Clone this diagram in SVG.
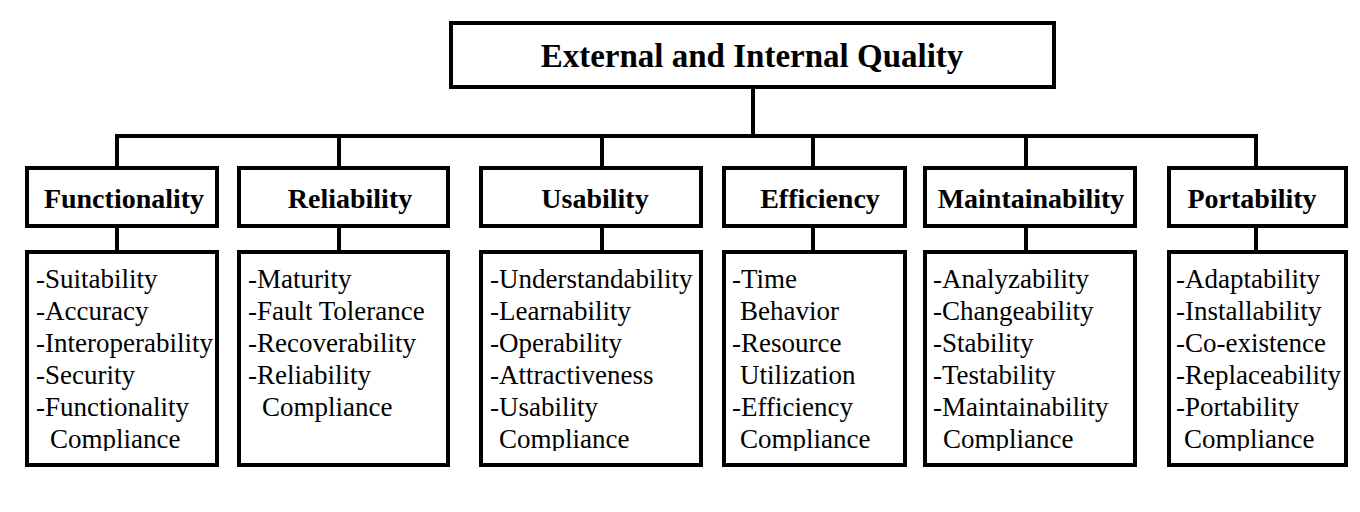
<svg xmlns="http://www.w3.org/2000/svg" width="1360" height="512" viewBox="0 0 1360 512">
<style>
.box{fill:#fff;stroke:#000;stroke-width:4}
.ln{stroke:#000;stroke-width:4;fill:none}
.title{font-family:"Liberation Serif","Times New Roman",serif;font-weight:bold;font-size:33px;text-anchor:middle;fill:#000}
.cat{font-family:"Liberation Serif","Times New Roman",serif;font-weight:bold;font-size:28px;text-anchor:middle;fill:#000}
.item{font-family:"Liberation Serif","Times New Roman",serif;font-size:27px;fill:#000}
</style>
<defs>
<clipPath id="clip" clipPathUnits="userSpaceOnUse"><rect x="0" y="0" width="1360" height="451"/></clipPath>
</defs>
<rect width="1360" height="512" fill="#fff"/>
<g id="connectors">
<path class="ln" d="M753 89V136M115 136H1258"/>
<path class="ln" d="M117 136V166M339 136V166M602 136V166M813 136V166M1026 136V166M1256 136V166"/>
<path class="ln" d="M117 228V250M339 228V250M602 228V250M813 228V250M1026 228V250M1256 228V250"/>
</g>
<g id="root">
<rect class="box" x="451" y="23" width="603" height="64"/>
<text class="title" x="752" y="67">External and Internal Quality</text>
</g>
<g id="functionality">
<rect class="box" x="27" y="168" width="190" height="58"/>
<text class="cat" x="124" y="208">Functionality</text>
</g>
<g id="reliability">
<rect class="box" x="239" y="168" width="209" height="58"/>
<text class="cat" x="350" y="208">Reliability</text>
</g>
<g id="usability">
<rect class="box" x="481" y="168" width="220" height="58"/>
<text class="cat" x="595" y="208">Usability</text>
</g>
<g id="efficiency">
<rect class="box" x="724" y="168" width="181" height="58"/>
<text class="cat" x="820" y="208">Efficiency</text>
</g>
<g id="maintainability">
<rect class="box" x="925" y="168" width="210" height="58"/>
<text class="cat" x="1031" y="208">Maintainability</text>
</g>
<g id="portability">
<rect class="box" x="1169" y="168" width="177" height="58"/>
<text class="cat" x="1252" y="208">Portability</text>
</g>
<g id="functionality-items">
<rect class="box" x="27" y="252" width="190" height="213"/>
<g class="item" clip-path="url(#clip)">
<text x="36" y="288">-Suitability</text>
<text x="36" y="320">-Accuracy</text>
<text x="36" y="352">-Interoperability</text>
<text x="36" y="384">-Security</text>
<text x="36" y="416">-Functionality</text>
<text x="50" y="448">Compliance</text>
</g>
</g>
<g id="reliability-items">
<rect class="box" x="239" y="252" width="209" height="213"/>
<g class="item" clip-path="url(#clip)">
<text x="248" y="288">-Maturity</text>
<text x="248" y="320">-Fault Tolerance</text>
<text x="248" y="352">-Recoverability</text>
<text x="248" y="384">-Reliability</text>
<text x="262" y="416">Compliance</text>
</g>
</g>
<g id="usability-items">
<rect class="box" x="481" y="252" width="220" height="213"/>
<g class="item" clip-path="url(#clip)">
<text x="490" y="288">-Understandability</text>
<text x="490" y="320">-Learnability</text>
<text x="490" y="352">-Operability</text>
<text x="490" y="384">-Attractiveness</text>
<text x="490" y="416">-Usability</text>
<text x="499" y="448">Compliance</text>
</g>
</g>
<g id="efficiency-items">
<rect class="box" x="724" y="252" width="181" height="213"/>
<g class="item" clip-path="url(#clip)">
<text x="732" y="288">-Time</text>
<text x="740" y="320">Behavior</text>
<text x="732" y="352">-Resource</text>
<text x="740" y="384">Utilization</text>
<text x="732" y="416">-Efficiency</text>
<text x="740" y="448">Compliance</text>
</g>
</g>
<g id="maintainability-items">
<rect class="box" x="925" y="252" width="210" height="213"/>
<g class="item" clip-path="url(#clip)">
<text x="933" y="288">-Analyzability</text>
<text x="933" y="320">-Changeability</text>
<text x="933" y="352">-Stability</text>
<text x="933" y="384">-Testability</text>
<text x="933" y="416">-Maintainability</text>
<text x="943" y="448">Compliance</text>
</g>
</g>
<g id="portability-items">
<rect class="box" x="1169" y="252" width="177" height="213"/>
<g class="item" clip-path="url(#clip)">
<text x="1176" y="288">-Adaptability</text>
<text x="1176" y="320">-Installability</text>
<text x="1176" y="352">-Co-existence</text>
<text x="1176" y="384">-Replaceability</text>
<text x="1176" y="416">-Portability</text>
<text x="1184" y="448">Compliance</text>
</g>
</g>
</svg>
